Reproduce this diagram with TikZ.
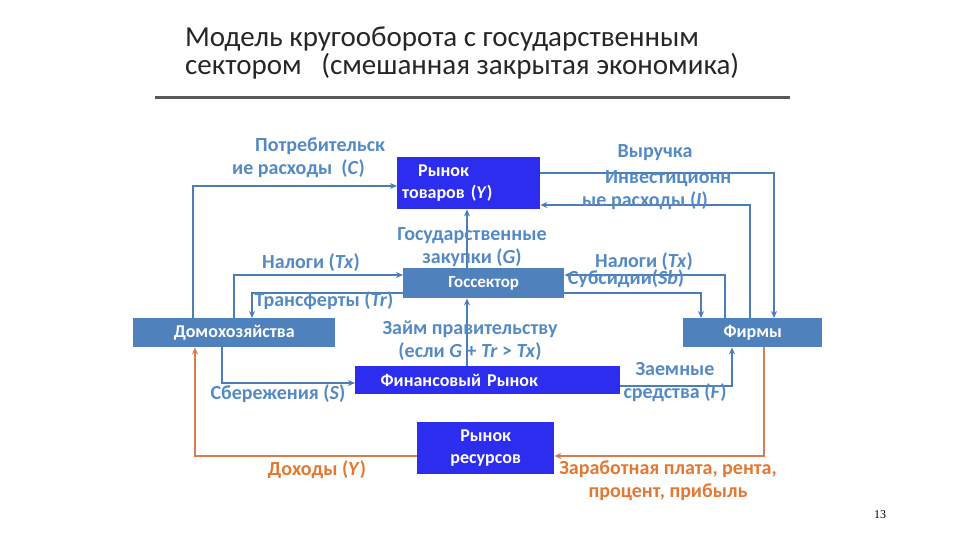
\documentclass[tikz,border=0pt]{standalone}
\usepackage{fontspec}
\setmainfont{Carlito}
\newfontfamily\serifnum{Liberation Serif}
\usetikzlibrary{arrows.meta}
\definecolor{bblue}{RGB}{45,45,240}
\definecolor{sblue}{RGB}{79,129,189}
\definecolor{lblue}{RGB}{84,138,196}
\definecolor{lnblue}{RGB}{76,125,180}
\definecolor{otext}{RGB}{226,120,50}
\definecolor{oline}{RGB}{215,125,80}
\definecolor{ttl}{RGB}{38,38,38}
\tikzset{
  bbox/.style={fill=bblue, draw=none, text=white, font=\bfseries\fontsize{18}{22}\selectfont, inner sep=0pt, anchor=north west},
  sbox/.style={fill=sblue, draw=none, text=white, font=\bfseries\fontsize{18}{22}\selectfont, inner sep=0pt, anchor=north west},
  lbl/.style={text=lblue, font=\bfseries\fontsize{20}{23}\selectfont, inner sep=0pt},
  olbl/.style={text=otext, font=\bfseries\fontsize{20}{23}\selectfont, inner sep=0pt},
  arr/.style={draw=lnblue, line width=1.6pt, -{Stealth[length=7pt,width=6pt]}},
  oarr/.style={draw=oline, line width=1.6pt, -{Stealth[length=7pt,width=6pt]}}
}
\begin{document}
\begin{tikzpicture}[x=1pt,y=-1pt]
\useasboundingbox (0,0) rectangle (960,540);
% title
\node[anchor=north west, align=left, text=ttl, font=\fontsize{29}{28}\selectfont, inner sep=0pt] (title) at (185,27)
  {Модель кругооборота с государственным\\сектором\ \ \ (смешанная закрытая экономика)};
\coordinate (ul1) at (155,98);
\coordinate (ul2) at (790,98);
\draw[line width=3pt, black!65] (ul1) -- (ul2);
% boxes
\node[bbox, minimum width=143pt, minimum height=52pt, text width=133pt, align=left, inner xsep=5pt] (rt) at (397,157)
  {\hspace*{16pt}Рынок\\товаров (\textit{Y})};
\node[sbox, minimum width=161pt, minimum height=30pt, font=\bfseries\fontsize{17}{20}\selectfont] (gs) at (403,268) {Госсектор};
\node[sbox, minimum width=202pt, minimum height=29pt] (hh) at (133,318) {Домохозяйства};
\node[sbox, minimum width=139pt, minimum height=29pt] (fi) at (683,318) {Фирмы};
\node[bbox, minimum width=265pt, minimum height=28pt, text width=248pt, align=left, inner xsep=0pt] (fm) at (355,366)
  {\hspace*{17pt}Финансовый Рынок};
\node[bbox, minimum width=137pt, minimum height=52pt, align=center] (rr) at (417,422) {Рынок\\ресурсов};
% connectors
\draw[arr] (193,0 |- hh.north) |- (rt.west |- 0,186);
\draw[arr] (rt.east |- 0,173) -| (774,0 |- fi.north);
\draw[arr] (750,0 |- fi.north) |- (rt.east |- 0,205);
\draw[arr] (467,0 |- gs.north) -- (467,0 |- rt.south);
\draw[arr] (234,0 |- hh.north) |- (gs.west |- 0,275);
\draw[arr] (gs.west |- 0,293) -| (252,0 |- hh.north);
\draw[arr] (725,0 |- fi.north) |- (gs.east |- 0,275);
\draw[arr] (gs.east |- 0,293) -| (701,0 |- fi.north);
\draw[arr] (467,0 |- fm.north) -- (467,0 |- gs.south);
\draw[arr] (222,0 |- hh.south) |- (fm.west |- 0,383);
\draw[arr] (fm.east |- 0,386) -| (732,0 |- fi.south);
\draw[oarr] (rr.west |- 0,456) -| (195,0 |- hh.south);
\draw[oarr] (764,0 |- fi.south) |- (rr.east |- 0,456);
% labels
\node[lbl, anchor=west, align=left] (lc) at (232,158) {\hspace*{23pt}Потребительск\\ие расходы\ \ (\textit{C})};
\node[lbl] (lrev) at (655,153) {Выручка};
\node[lbl, anchor=west, align=left] (li) at (582,190) {\hspace*{23pt}Инвестиционн\\ые расходы (\textit{I})};
\node[lbl, align=center] (lg) at (472,247) {Государственные\\закупки (\textit{G})};
\node[lbl] (ltx1) at (311,263) {Налоги (\textit{Tx})};
\node[lbl] (ltr) at (324,301) {Трансферты (\textit{Tr})};
\node[lbl, align=center] (lz) at (470,341) {Займ правительству\\(если \textit{G} + \textit{Tr} > \textit{Tx})};
\node[lbl] (ltx2) at (644,262) {Налоги (\textit{Tx})};
\node[lbl] (lsb) at (626,279) {Субсидии(\textit{Sb})};
\node[lbl] (ls) at (278,394) {Сбережения (\textit{S})};
\node[lbl, align=center] (lf) at (675,382) {Заемные\\средства (\textit{F})};
\node[olbl] (ly) at (317,470) {Доходы (\textit{Y})};
\node[olbl, align=center] (lw) at (668,481) {Заработная плата, рента,\\процент, прибыль};
\node[font=\serifnum\fontsize{12}{14}\selectfont, inner sep=0pt] (pg) at (880,515) {13};
\end{tikzpicture}
\end{document}
